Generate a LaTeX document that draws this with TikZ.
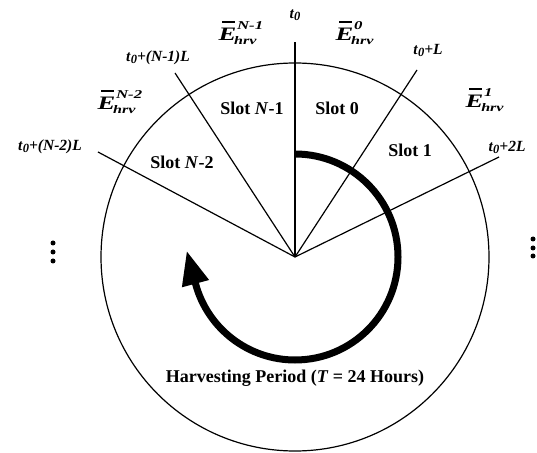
\documentclass[tikz,border=0pt]{standalone}
\usepackage{fontspec}
\setmainfont{Liberation Serif}
\usetikzlibrary{arrows.meta}
\newcommand{\bi}[1]{\textbf{\textit{#1}}}
\newcommand{\tzero}{\bi{t}\raisebox{-2pt}{\fontsize{12.5}{13}\selectfont\bi{0}}}
\newcommand{\Ebar}[1]{\scalebox{1.4}[1]{\makebox[0pt][l]{\hspace{2.5pt}\rule[18pt]{9pt}{1.8pt}}\bi{E}\hspace{-1.5pt}\rlap{\hspace{2pt}\raisebox{11pt}{\fontsize{12}{13}\selectfont\bi{#1}}}\raisebox{-4pt}{\fontsize{11.5}{13}\selectfont\bi{hrv}}}}
\begin{document}
\begin{tikzpicture}[x=1pt,y=1pt,line width=1.2pt,
  tlbl/.style={font=\fontsize{15.5}{18}\selectfont},
  elbl/.style={font=\fontsize{19}{22}\selectfont,anchor=base west,inner sep=0pt},
  slotlbl/.style={font=\bfseries\fontsize{18}{21}\selectfont},
  dotmark/.style={fill=black,circle,inner sep=0pt,minimum size=5pt}]
\useasboundingbox (0,0) rectangle (537,452);
\coordinate (c) at (295,195);
\draw (c) circle[radius=194];
\coordinate (r0) at (295,410);
\coordinate (r1) at (417,382);
\coordinate (r2) at (499,295);
\coordinate (rn1) at (175,379);
\coordinate (rn2) at (98,300);
\draw (c) -- (r0);
\draw (c) -- (r1);
\draw (c) -- (r2);
\draw (c) -- (rn1);
\draw (c) -- (rn2);
% ray labels
\node[tlbl] (t0) at (295,437) {\tzero};
\node[tlbl] (t1) at (428,402) {\tzero\bi{+L}};
\node[tlbl] (t2) at (507,305) {\tzero\bi{+2L}};
\node[tlbl] (tn1) at (158,394) {\tzero\bi{+(N-1)L}};
\node[tlbl] (tn2) at (50,305) {\tzero\bi{+(N-2)L}};
% energy labels
\node[elbl] (e0) at (335,411) {\Ebar{0}};
\node[elbl] (e1) at (465,344) {\Ebar{1}};
\node[elbl] (en1) at (218,411) {\Ebar{N-1}};
\node[elbl] (en2) at (97,342) {\Ebar{N-2}};
% slot labels
\node[slotlbl] (s0) at (337,344) {Slot 0};
\node[slotlbl] (s1) at (410,302) {Slot 1};
\node[slotlbl] (sn1) at (252,344) {Slot \textit{N}-1};
\node[slotlbl] (sn2) at (182,290) {Slot \textit{N}-2};
% arrow
\draw[line width=7pt,-{Triangle[length=34pt,width=26pt]}]
  (c) ++(90:103) arc[start angle=90,end angle=-165,radius=103] -- ++(105:34);
\node[slotlbl] (hp) at (295,74) {Harvesting Period (\textit{T} = 24 Hours)};
% dots
\node[dotmark] (dl1) at (53,209) {};
\node[dotmark] (dl2) at (53,200) {};
\node[dotmark] (dl3) at (53,191) {};
\node[dotmark] (dr1) at (533,213) {};
\node[dotmark] (dr2) at (533,204) {};
\node[dotmark] (dr3) at (533,196) {};
\end{tikzpicture}
\end{document}
